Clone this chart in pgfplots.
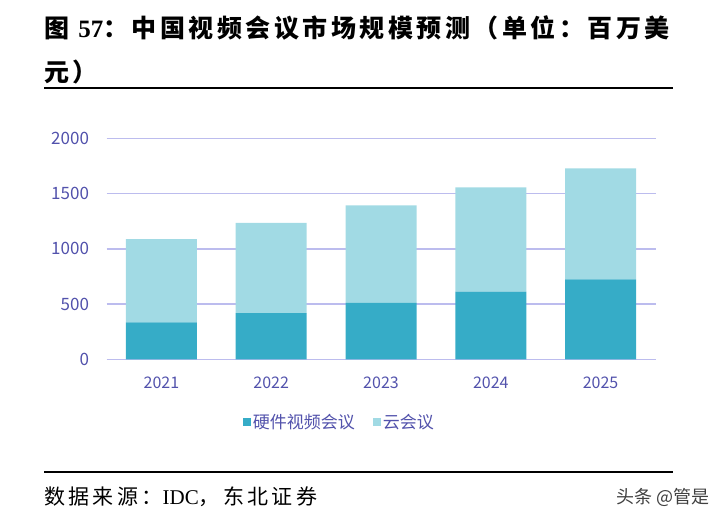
\documentclass[border=0pt]{standalone}
\usepackage{pgfplots}
\pgfplotsset{compat=1.18}
\usepackage{fontspec}
\setmainfont{Liberation Serif}
\newfontfamily\cjk{Noto Sans CJK SC}

\definecolor{hw}{HTML}{36ACC7}
\definecolor{cloud}{HTML}{A1DAE4}
\definecolor{gridc}{HTML}{BCBCEE}
\definecolor{lab}{HTML}{5252AC}

\begin{document}
\begin{tikzpicture}[x=1pt,y=1pt]
\useasboundingbox (0,0) rectangle (717,524);
% title and rules
\node[anchor=west,inner sep=0] at (44,496) {\fontsize{25}{25}\selectfont\cjk\bfseries\addfontfeature{LetterSpace=14}图\ {\rmfamily\bfseries 57}：中国视频会议市场规模预测（单位：百万美};
\node[anchor=west,inner sep=0] at (44,452) {\fontsize{25}{25}\selectfont\cjk\bfseries\addfontfeature{LetterSpace=14}元）};
\draw[line width=2pt] (44,436) -- (673,436);
\draw[line width=2pt] (44,52) -- (673,52);
\node[anchor=west,inner sep=0] at (44,27) {\fontsize{21}{21}\selectfont\cjk\addfontfeature{LetterSpace=16}数据来源：{\rmfamily IDC}，东北证券};
\node[anchor=east,inner sep=0,text=black!75] at (710,27) {\fontsize{18}{18}\selectfont\cjk 头条 @管是};

\begin{axis}[
    at={(97,149)}, anchor=south west,
    scale only axis, width=549pt, height=221pt,
    ybar stacked, bar width=71pt,
    xmin=-0.5, xmax=4.5, ymin=0, ymax=2000,
    xtick=data, xticklabels={2021,2022,2023,2024,2025},
    ytick={0,500,1000,1500,2000},
    ymajorgrids=true,
    grid style={gridc, line width=1.5pt},
    axis line style={draw=none},
    major tick length=0pt,
    tick label style={font=\fontsize{17}{17}\selectfont\cjk, text=lab},
    xticklabel style={font=\fontsize{16}{16}\selectfont\cjk, yshift=-14pt},
    /pgf/number format/assume math mode=true,
    /pgf/number format/1000 sep={},
    yticklabel style={xshift=-14pt},
    legend style={at={(0.424,-0.285)}, anchor=center, draw=none,
        legend columns=2, font=\fontsize{17}{17}\selectfont\cjk, text=lab,
        /tikz/every even column/.append style={column sep=16pt}},
    legend image code/.code={\fill[#1] (0pt,-3.5pt) rectangle (8pt,4.5pt);},
]
\addplot[fill=hw, draw=none] coordinates {(0,335) (1,419) (2,512) (3,612) (4,724)};
\addplot[fill=cloud, draw=none] coordinates {(0,753) (1,817) (2,882) (3,945) (4,1005)};
\legend{硬件视频会议,云会议}
\end{axis}
\end{tikzpicture}
\end{document}
